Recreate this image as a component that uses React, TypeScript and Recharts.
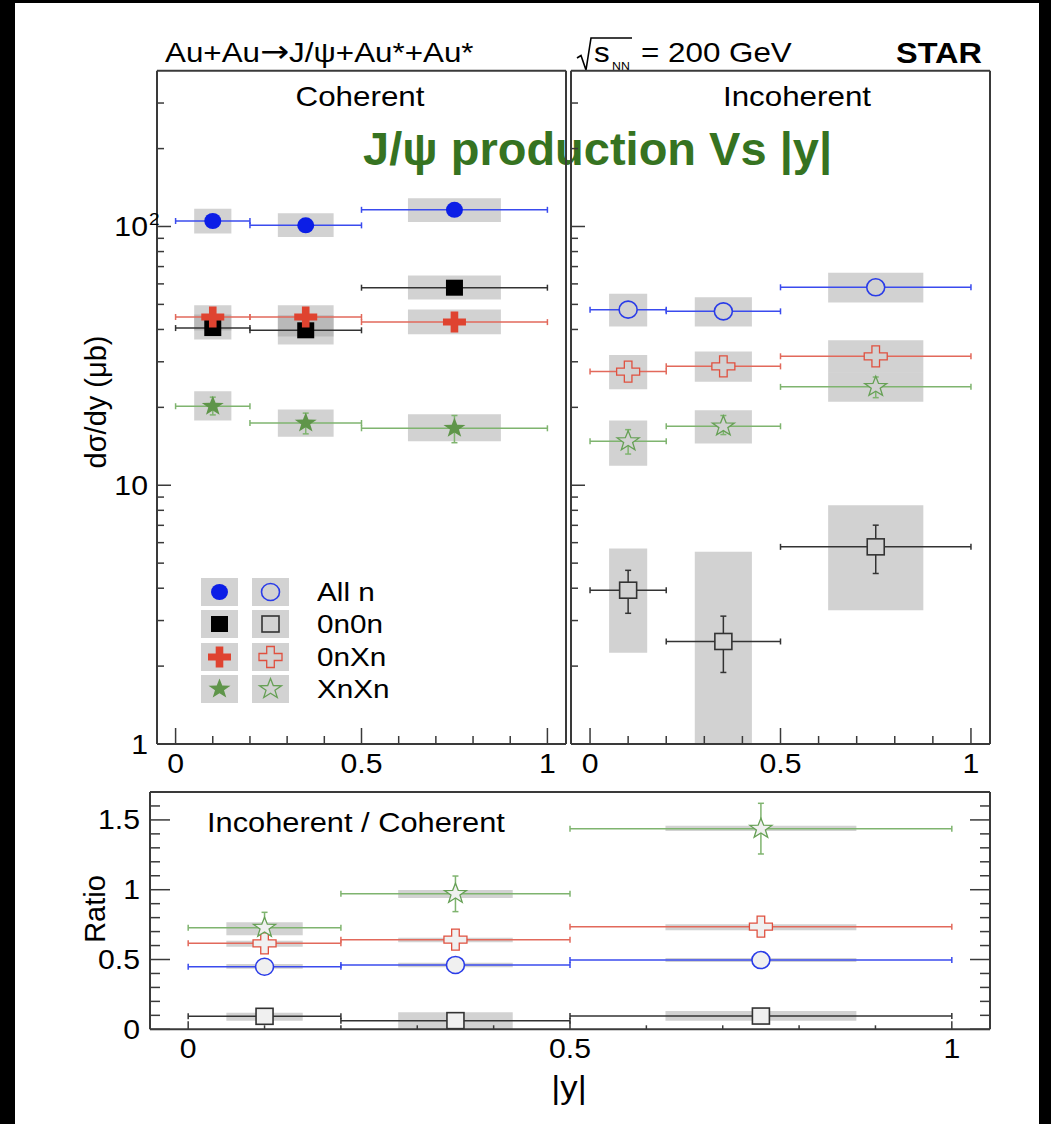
import React from "react";
import { ScatterChart, Scatter, XAxis, YAxis, ErrorBar, ReferenceArea, Legend } from "recharts";

const W = 1051;
const H = 1124;
const FONT = "'Liberation Sans', Arial, Helvetica, sans-serif";
const SX = 1.12; // the original figure is a bit stretched sideways
const AXIS = "#3a3a3a";
const BOX = "#9c9c9c";
const BOX_BG = "#d2d2d2";

// |y| bins
const BIN_CENTER = [0.1, 0.35, 0.75];
const BIN_HALF = [0.1, 0.15, 0.25];
const SYS_HALF = [0.05, 0.075, 0.125];

// coherent dsigma/dy (ub): value, stat [lo, hi], syst box [lo, hi]
const COH_ALLN = [105, 101, 116];
const COH_ALLN_STAT = [[1.5, 1.5], [1.5, 1.5], [2, 2]];
const COH_ALLN_SYS = [[94, 117], [91, 112.5], [104, 128.6]];
const COH_0N0N = [40.5, 39.7, 58];
const COH_0N0N_STAT = [[1.5, 1.5], [1.5, 1.5], [2, 2]];
const COH_0N0N_SYS = [[36.6, 45.7], [35, 45.4], [52.2, 64.7]];
const COH_0NXN = [44.7, 44.7, 42.7];
const COH_0NXN_STAT = [[1.5, 1.5], [1.5, 1.5], [1.5, 1.5]];
const COH_0NXN_SYS = [[39.6, 49.6], [37.6, 49.6], [38.3, 47.8]];
const COH_XNXN = [20.2, 17.4, 16.6];
const COH_XNXN_STAT = [[1.5, 1.7], [1.6, 1.6], [2, 2]];
const COH_XNXN_SYS = [[17.8, 23.1], [15.4, 19.6], [14.8, 18.8]];

// incoherent dsigma/dy (ub)
const INC_ALLN = [47.7, 47, 58.2];
const INC_ALLN_STAT = [[1.5, 1.5], [1.5, 1.5], [2, 2]];
const INC_ALLN_SYS = [[41.1, 55], [41.1, 53.3], [50.9, 66.3]];
const INC_0N0N = [3.93, 2.49, 5.78];
const INC_0N0N_STAT = [[0.73, 0.76], [0.6, 0.63], [1.22, 1.23]];
const INC_0N0N_SYS = [[2.25, 5.7], [0.8, 5.53], [3.29, 8.37]];
const INC_0NXN = [27.5, 28.8, 31.5];
const INC_0NXN_STAT = [[1, 1], [1, 1], [1.2, 1.2]];
const INC_0NXN_SYS = [[23.5, 31.9], [25.1, 32.9], [27.2, 36.3]];
const INC_XNXN = [14.8, 16.9, 24];
const INC_XNXN_STAT = [[1.6, 1.6], [1.2, 1.7], [2.2, 2.2]];
const INC_XNXN_SYS = [[11.9, 17.8], [14.5, 19.5], [21, 27.2]];

// incoherent / coherent
const RAT_ALLN = [0.448, 0.461, 0.496];
const RAT_ALLN_STAT = [[0.02, 0.02], [0.02, 0.02], [0.02, 0.02]];
const RAT_ALLN_SYS = [[0.434, 0.468], [0.444, 0.477], [0.482, 0.511]];
const RAT_0N0N = [0.093, 0.062, 0.095];
const RAT_0N0N_STAT = [[0.02, 0.02], [0.015, 0.015], [0.02, 0.02]];
const RAT_0N0N_SYS = [[0.062, 0.119], [-0.02, 0.122], [0.062, 0.131]];
const RAT_0NXN = [0.616, 0.642, 0.735];
const RAT_0NXN_STAT = [[0.03, 0.03], [0.03, 0.03], [0.03, 0.03]];
const RAT_0NXN_SYS = [[0.592, 0.635], [0.623, 0.656], [0.709, 0.752]];
const RAT_XNXN = [0.728, 0.971, 1.437];
const RAT_XNXN_STAT = [[0.112, 0.11], [0.128, 0.127], [0.181, 0.182]];
const RAT_XNXN_SYS = [[0.673, 0.767], [0.941, 0.998], [1.42, 1.458]];

const LEGEND_LABELS = ["All n", "0n0n", "0nXn", "XnXn"];

const X_TICKS = [0, 0.1, 0.2, 0.3, 0.4, 0.5, 0.6, 0.7, 0.8, 0.9, 1];
const LOG_TICKS = [1, 2, 3, 4, 5, 6, 7, 8, 9, 10, 20, 30, 40, 50, 60, 70, 80, 90, 100, 200, 300];
const RATIO_TICKS = [0, 0.1, 0.2, 0.3, 0.4, 0.5, 0.6, 0.7, 0.8, 0.9, 1, 1.1, 1.2, 1.3, 1.4, 1.5, 1.6];

type Kind = "circle" | "square" | "cross" | "star";
type Series = { name: string; kind: Kind; color: string; bar: string; val: number[]; stat: number[][]; sys: number[][] };

const STYLE: { kind: Kind; color: string; bar: string; open: string }[] = [
  { kind: "circle", color: "#0c1ee6", bar: "#3a4bee", open: "#2a3ce8" },
  { kind: "square", color: "#000000", bar: "#333333", open: "#333333" },
  { kind: "cross", color: "#df4330", bar: "#e2695b", open: "#e0503f" },
  { kind: "star", color: "#5f954a", bar: "#7fb46f", open: "#66a055" },
];

function mk(i: number, open: boolean, val: number[], stat: number[][], sys: number[][]): Series {
  const s = STYLE[i];
  return { name: LEGEND_LABELS[i], kind: s.kind, color: open ? s.open : s.color, bar: s.bar, val, stat, sys };
}

const COHERENT = [
  mk(0, false, COH_ALLN, COH_ALLN_STAT, COH_ALLN_SYS),
  mk(1, false, COH_0N0N, COH_0N0N_STAT, COH_0N0N_SYS),
  mk(2, false, COH_0NXN, COH_0NXN_STAT, COH_0NXN_SYS),
  mk(3, false, COH_XNXN, COH_XNXN_STAT, COH_XNXN_SYS),
];
const INCOHERENT = [
  mk(0, true, INC_ALLN, INC_ALLN_STAT, INC_ALLN_SYS),
  mk(1, true, INC_0N0N, INC_0N0N_STAT, INC_0N0N_SYS),
  mk(2, true, INC_0NXN, INC_0NXN_STAT, INC_0NXN_SYS),
  mk(3, true, INC_XNXN, INC_XNXN_STAT, INC_XNXN_SYS),
];
const RATIO = [
  mk(0, true, RAT_ALLN, RAT_ALLN_STAT, RAT_ALLN_SYS),
  mk(1, true, RAT_0N0N, RAT_0N0N_STAT, RAT_0N0N_SYS),
  mk(2, true, RAT_0NXN, RAT_0NXN_STAT, RAT_0NXN_SYS),
  mk(3, true, RAT_XNXN, RAT_XNXN_STAT, RAT_XNXN_SYS),
];

function Mark({ kind, cx, cy, color, open, inner = "none" }: { kind: Kind; cx: number; cy: number; color: string; open?: boolean; inner?: string }) {
  const fill = open ? inner : color;
  const sw = open ? 1.6 : 0;
  if (kind === "circle")
    return <ellipse cx={cx} cy={cy} rx={open ? 9 : 8.5} ry={open ? 8.5 : 8} fill={fill} stroke={color} strokeWidth={sw} />;
  if (kind === "square") return <rect x={cx - 8.5} y={cy - 8} width={17} height={16} fill={fill} stroke={color} strokeWidth={sw} />;
  let pts: number[][] = [];
  if (kind === "cross") {
    const a = 11.5, b = 10.5, t = 3.8, u = 3.5;
    pts = [[-t, -b], [t, -b], [t, -u], [a, -u], [a, u], [t, u], [t, b], [-t, b], [-t, u], [-a, u], [-a, -u], [-t, -u]];
  } else {
    for (let k = 0; k < 10; k++) {
      const r = k % 2 === 0 ? 10.5 : 4.3;
      const ang = -Math.PI / 2 + (k * Math.PI) / 5;
      pts.push([1.1 * r * Math.cos(ang), r * Math.sin(ang)]);
    }
  }
  return (
    <polygon points={pts.map(([x, y]) => `${cx + x},${cy + y}`).join(" ")} fill={fill} stroke={color} strokeWidth={open ? 1.3 : 0} />
  );
}

function Txt({ x, y, size, anchor = "start", weight = 400, fill = "#000", children }: any) {
  return (
    <text transform={`translate(${x},${y}) scale(${SX},1)`} textAnchor={anchor} fontSize={size} fontWeight={weight}
      fontFamily={FONT} fill={fill}>
      {children}
    </text>
  );
}

type Side = "bottom" | "top" | "left" | "right";
function tickRenderer(side: Side, majors: number[], maj: number, min: number, label?: (v: number, x: number, y: number) => React.ReactNode) {
  return (p: any) => {
    const v = Number(p.payload?.value);
    const isMaj = majors.some((m) => Math.abs(m - v) < 1e-6);
    const len = isMaj ? maj : min;
    const x = Number(p.x);
    const y = Number(p.y);
    const d = side === "bottom" ? [0, -len] : side === "top" ? [0, len] : side === "left" ? [len, 0] : [-len, 0];
    return (
      <g>
        <line x1={x} y1={y} x2={x + d[0]} y2={y + d[1]} stroke={AXIS} strokeWidth={1.5} />
        {isMaj && label ? label(v, x, y) : null}
      </g>
    );
  };
}

const xLabel = (v: number, x: number, y: number) => (
  <Txt x={x} y={y + 29} size={27} anchor="middle">{v === 0 ? "0" : v === 1 ? "1" : "0.5"}</Txt>
);
const logLabel = (v: number, x: number, y: number) =>
  v === 100 ? (
    <g>
      <Txt x={x - 9} y={y + 9.5} size={27} anchor="end">10</Txt>
      <Txt x={x - 8} y={y - 1} size={17}>2</Txt>
    </g>
  ) : (
    <Txt x={x - 9} y={y + 9.5} size={27} anchor="end">{v === 10 ? "10" : "1"}</Txt>
  );
const ratioLabel = (v: number, x: number, y: number) => (
  <Txt x={x - 10} y={y + 9.5} size={27} anchor="end">{v === 0 ? "0" : v === 1 ? "1" : v === 1.5 ? "1.5" : "0.5"}</Txt>
);

function LegendBox() {
  return (
    <div style={{ fontFamily: FONT }}>
      {STYLE.map((s, i) => (
        <div key={i} style={{ position: "relative", height: 28, marginBottom: 4.5 }}>
          <svg width={37} height={28} style={{ position: "absolute", left: 0, top: 0, background: BOX_BG }}>
            <Mark kind={s.kind} cx={18.5} cy={14} color={s.color} />
          </svg>
          <svg width={37} height={28} style={{ position: "absolute", left: 50.7, top: 0, background: BOX_BG }}>
            <Mark kind={s.kind} cx={18.5} cy={14} color={s.open} open />
          </svg>
          <span style={{ position: "absolute", left: 115.7, top: 0, fontSize: 26.5, lineHeight: "28px", whiteSpace: "nowrap",
            transform: `scaleX(${SX})`, transformOrigin: "left center", color: "#000" }}>
            {LEGEND_LABELS[i]}
          </span>
        </div>
      ))}
    </div>
  );
}

interface PanelProps {
  frame: { left: number; top: number; right: number; bottom: number };
  series: Series[];
  open: boolean;
  inner: string;
  log: boolean;
  yLabels: boolean;
  ratio: boolean;
  legend?: boolean;
}

// axes are 1px thick (Recharts skips axes of zero size), so margins sit 1px outside the frame
function Panel({ frame, series, open, inner, log, yLabels, ratio, legend }: PanelProps) {
  const margin = { top: frame.top - 1, left: frame.left - 1, right: W - frame.right - 1, bottom: H - frame.bottom - 1 };
  const yDomain = log ? [1, 400] : [0, 1.7];
  const yTicks = log ? LOG_TICKS : RATIO_TICKS;
  const yMajors = log ? [1, 10, 100] : [0, 0.5, 1, 1.5];
  const line = { stroke: AXIS, strokeWidth: 2 };
  const common = { tickSize: 0, tickMargin: 0, tickLine: false, interval: 0 as const, allowDataOverflow: true, axisLine: line };
  const xMaj = ratio ? 8 : 16;
  const xMin = ratio ? 4 : 8;
  const yMaj = ratio ? 20 : 14;
  const yMin = ratio ? 10 : 7;
  const yLab = yLabels ? (log ? logLabel : ratioLabel) : undefined;
  return (
    <div style={{ position: "absolute", left: 0, top: 0 }}>
      <ScatterChart width={W} height={H} margin={margin}>
        <XAxis dataKey="x" type="number" domain={[-0.05, 1.05]} ticks={X_TICKS} height={1} {...common}
          tick={tickRenderer("bottom", [0, 0.5, 1], xMaj, xMin, xLabel)} />
        <XAxis xAxisId="t" orientation="top" type="number" domain={[-0.05, 1.05]} ticks={X_TICKS} height={1} {...common}
          tick={ratio ? tickRenderer("top", [0, 0.5, 1], xMaj, xMin) : false} />
        <YAxis dataKey="y" type="number" scale={log ? "log" : "linear"} domain={yDomain} ticks={yTicks} width={1} {...common}
          tick={tickRenderer("left", yMajors, yMaj, yMin, yLab)} />
        <YAxis yAxisId="r" orientation="right" type="number" scale={log ? "log" : "linear"} domain={yDomain} ticks={yTicks} width={1}
          {...common} tick={ratio ? tickRenderer("right", yMajors, yMaj, yMin) : false} />
        {series.flatMap((s) =>
          BIN_CENTER.map((c, i) => (
            <ReferenceArea key={`${s.name}-box-${i}`} x1={c - SYS_HALF[i]} x2={c + SYS_HALF[i]} y1={s.sys[i][0]} y2={s.sys[i][1]}
              fill={BOX} fillOpacity={0.45} stroke="none" ifOverflow="hidden" />
          ))
        )}
        {series.map((s) => (
          <Scatter key={s.name} name={s.name} isAnimationActive={false}
            data={BIN_CENTER.map((c, i) => ({ x: c, y: s.val[i], ex: BIN_HALF[i], ey: s.stat[i] }))}
            shape={(p: any) => <Mark kind={s.kind} cx={p.cx} cy={p.cy} color={s.color} open={open} inner={inner} />}>
            <ErrorBar dataKey="ex" direction="x" width={3} stroke={s.bar} strokeWidth={1.5} />
            <ErrorBar dataKey="ey" direction="y" width={3} stroke={s.bar} strokeWidth={1.5} />
          </Scatter>
        ))}
        {legend && (
          <Legend layout="vertical" align="center" verticalAlign="middle" content={() => <LegendBox />}
            wrapperStyle={{ left: 201, top: 577.7, width: 200, height: 130 }} />
        )}
      </ScatterChart>
    </div>
  );
}

function Annotations() {
  return (
    <svg width={W} height={H} style={{ position: "absolute", left: 0, top: 0 }}>
      <Txt x={165} y={62} size={28}>
        Au+Au<tspan fontFamily="'DejaVu Sans'" fontSize={31}>→</tspan>J/ψ+Au*+Au*
      </Txt>
      <path d="M577 58 L581 55.5 L586 70 L591 38 L632 38" fill="none" stroke="#000" strokeWidth={1.6} />
      <Txt x={594} y={62} size={28}>s</Txt>
      <Txt x={612} y={70} size={11}>NN</Txt>
      <Txt x={641} y={62} size={28}>= 200 GeV</Txt>
      <Txt x={982} y={62.5} size={29} anchor="end" weight={700}>STAR</Txt>
      <Txt x={360} y={106} size={28} anchor="middle">Coherent</Txt>
      <Txt x={797} y={106} size={28} anchor="middle">Incoherent</Txt>
      <text x={363} y={165} fontSize={47} fontWeight={700} fontFamily={FONT} fill="#367321">J/ψ production Vs |y|</text>
      <text transform="translate(106,402) rotate(-90)" textAnchor="middle" fontSize={29} fontFamily={FONT}>dσ/dy (μb)</text>
      <text transform="translate(105,909) rotate(-90)" textAnchor="middle" fontSize={29} fontFamily={FONT}>Ratio</text>
      <Txt x={207} y={831.7} size={27.5}>Incoherent / Coherent</Txt>
      <Txt x={569} y={1098} size={31} anchor="middle">|y|</Txt>
    </svg>
  );
}

export default function App() {
  return (
    <div style={{ position: "absolute", left: 0, top: 0, width: W, height: H, background: "#fff", overflow: "hidden" }}>
      <Annotations />
      <Panel frame={{ left: 157, top: 70.7, right: 566, bottom: 744 }} series={COHERENT} open={false} inner="none"
        log yLabels ratio={false} legend />
      <Panel frame={{ left: 571, top: 70.7, right: 990, bottom: 744 }} series={INCOHERENT} open inner={BOX_BG}
        log yLabels={false} ratio={false} />
      <Panel frame={{ left: 150, top: 792, right: 990, bottom: 1029.3 }} series={RATIO} open inner="#f0f0f0"
        log={false} yLabels ratio />
      <div style={{ position: "absolute", left: 0, top: 0, width: 15, height: H, background: "#000" }} />
      <div style={{ position: "absolute", left: 0, top: 0, width: W, height: 3, background: "#000" }} />
      <div style={{ position: "absolute", left: 1039, top: 0, width: 12, height: H, background: "#000" }} />
    </div>
  );
}
